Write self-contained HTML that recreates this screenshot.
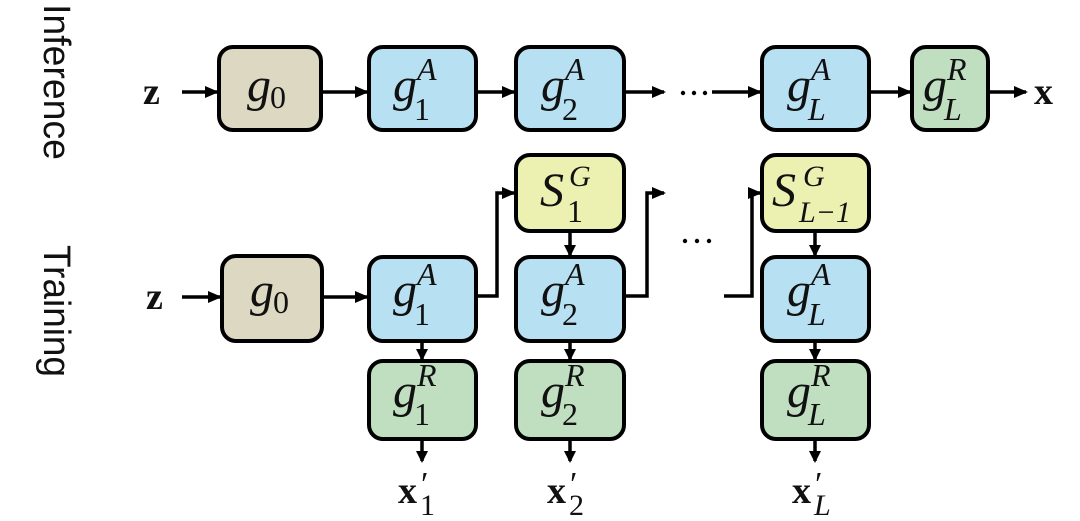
<!DOCTYPE html>
<html><head><meta charset="utf-8"><style>
html,body{margin:0;padding:0;background:#fff;}
svg{display:block;}
.m{font-family:"Liberation Serif",serif;font-style:italic;fill:#111;}
.u{font-family:"Liberation Serif",serif;fill:#111;}
</style></head><body>
<svg width="1080" height="521" viewBox="0 0 1080 521" xmlns="http://www.w3.org/2000/svg">
<defs>
<marker id="ah" markerWidth="12" markerHeight="12" refX="10" refY="6" orient="auto" markerUnits="userSpaceOnUse">
<path d="M0,0 L12,6 L0,12 z" fill="#000"/>
</marker>
<marker id="ah2" markerWidth="14" markerHeight="12" refX="12" refY="6" orient="auto" markerUnits="userSpaceOnUse">
<path d="M0,0 L14,6 L0,12 z" fill="#000"/>
</marker>
</defs>
<g font-family="Liberation Sans, sans-serif" font-size="38" fill="#111">
<text transform="translate(44,4) rotate(90)" textLength="156" lengthAdjust="spacingAndGlyphs">Inference</text>
<text transform="translate(44,245) rotate(90)" textLength="132" lengthAdjust="spacingAndGlyphs">Training</text>
</g>
<g stroke="#000" stroke-width="4">
<rect x="219" y="47" width="102" height="83" rx="14" fill="#ddd8c2"/>
<rect x="369" y="47" width="107" height="83" rx="14" fill="#b7e0f2"/>
<rect x="516" y="47" width="108" height="83" rx="14" fill="#b7e0f2"/>
<rect x="762" y="47" width="107" height="83" rx="14" fill="#b7e0f2"/>
<rect x="912" y="47" width="76" height="83" rx="14" fill="#c0dfc1"/>
<rect x="222" y="256" width="100" height="85" rx="14" fill="#ddd8c2"/>
<rect x="369" y="257" width="107" height="84" rx="14" fill="#b7e0f2"/>
<rect x="516" y="155" width="108" height="76" rx="14" fill="#ecf0b0"/>
<rect x="516" y="257" width="108" height="84" rx="14" fill="#b7e0f2"/>
<rect x="762" y="155" width="107" height="76" rx="14" fill="#ecf0b0"/>
<rect x="762" y="257" width="107" height="84" rx="14" fill="#b7e0f2"/>
<rect x="369" y="361" width="107" height="78" rx="14" fill="#c0dfc1"/>
<rect x="516" y="361" width="108" height="78" rx="14" fill="#c0dfc1"/>
<rect x="762" y="361" width="107" height="78" rx="14" fill="#c0dfc1"/>
</g>
<g stroke="#000" stroke-width="3.5" fill="none" marker-end="url(#ah2)">
<line x1="182" y1="92" x2="217" y2="92"/>
<line x1="321" y1="92" x2="367" y2="92"/>
<line x1="476" y1="92" x2="514" y2="92"/>
<line x1="624" y1="92" x2="664" y2="92"/>
<line x1="712" y1="92" x2="760" y2="92"/>
<line x1="869" y1="92" x2="910" y2="92"/>
<line x1="988" y1="92" x2="1026" y2="92"/>
<line x1="182" y1="297" x2="220" y2="297"/>
<line x1="322" y1="297" x2="367" y2="297"/>
<polyline points="476,296 497,296 497,193 514,193"/>
<polyline points="624,296 647,296 647,193 664,193"/>
<polyline points="724,296 752,296 752,193 760,193"/>
</g>
<g stroke="#000" stroke-width="3.5" fill="none" marker-end="url(#ah)">
<line x1="570" y1="231" x2="570" y2="255"/>
<line x1="815" y1="231" x2="815" y2="255"/>
<line x1="422" y1="341" x2="422" y2="359"/>
<line x1="570" y1="341" x2="570" y2="359"/>
<line x1="815" y1="341" x2="815" y2="359"/>
<line x1="422" y1="439" x2="422" y2="461"/>
<line x1="570" y1="439" x2="570" y2="461"/>
<line x1="815" y1="439" x2="815" y2="461"/>
</g>
<g fill="#000">
<circle cx="683" cy="93" r="2.2"/><circle cx="694" cy="93" r="2.2"/><circle cx="705" cy="93" r="2.2"/>
<circle cx="685" cy="241" r="2.2"/><circle cx="697" cy="241" r="2.2"/><circle cx="709" cy="241" r="2.2"/>
</g>
<g class="u" font-weight="bold" font-size="38">
<text x="143" y="104">z</text>
<text x="146" y="309">z</text>
<text x="1034" y="104">x</text>
</g>
<g font-size="48">
<text class="m" x="247" y="101">g</text><text class="u" x="270" y="108" font-size="32">0</text>
<text class="m" x="250" y="306">g</text><text class="u" x="273" y="313" font-size="32">0</text>
<text class="m" x="393" y="101">g</text><text class="u" x="414" y="120" font-size="32">1</text><text class="m" x="417" y="80" font-size="32">A</text>
<text class="m" x="541" y="101">g</text><text class="u" x="562" y="120" font-size="32">2</text><text class="m" x="565" y="80" font-size="32">A</text>
<text class="m" x="787" y="101">g</text><text class="m" x="808" y="120" font-size="32">L</text><text class="m" x="811" y="80" font-size="32">A</text>
<text class="m" x="923" y="101">g</text><text class="m" x="944" y="120" font-size="32">L</text><text class="m" x="947" y="80" font-size="32">R</text>
<text class="m" x="393" y="306">g</text><text class="u" x="414" y="325" font-size="32">1</text><text class="m" x="417" y="285" font-size="32">A</text>
<text class="m" x="541" y="306">g</text><text class="u" x="562" y="325" font-size="32">2</text><text class="m" x="565" y="285" font-size="32">A</text>
<text class="m" x="787" y="306">g</text><text class="m" x="808" y="325" font-size="32">L</text><text class="m" x="811" y="285" font-size="32">A</text>
<text class="m" x="393" y="407">g</text><text class="u" x="414" y="425" font-size="32">1</text><text class="m" x="417" y="386" font-size="32">R</text>
<text class="m" x="541" y="407">g</text><text class="u" x="562" y="425" font-size="32">2</text><text class="m" x="565" y="386" font-size="32">R</text>
<text class="m" x="787" y="407">g</text><text class="m" x="808" y="425" font-size="32">L</text><text class="m" x="811" y="386" font-size="32">R</text>
<text class="m" x="540" y="206">S</text><text class="u" x="567" y="222" font-size="32">1</text><text class="m" x="569" y="186" font-size="30">G</text>
<text class="m" x="772" y="206">S</text><text class="m" x="799" y="222" font-size="30">L−1</text><text class="m" x="803" y="186" font-size="30">G</text>
</g>
<g>
<text class="u" font-weight="bold" font-size="38" x="398" y="503">x</text><text class="u" x="421" y="495" font-size="34">′</text><text class="u" x="420" y="515" font-size="30">1</text>
<text class="u" font-weight="bold" font-size="38" x="547" y="503">x</text><text class="u" x="570" y="495" font-size="34">′</text><text class="u" x="569" y="515" font-size="30">2</text>
<text class="u" font-weight="bold" font-size="38" x="792" y="503">x</text><text class="u" x="815" y="495" font-size="34">′</text><text class="m" x="814" y="515" font-size="30">L</text>
</g>
</svg>
</body></html>
